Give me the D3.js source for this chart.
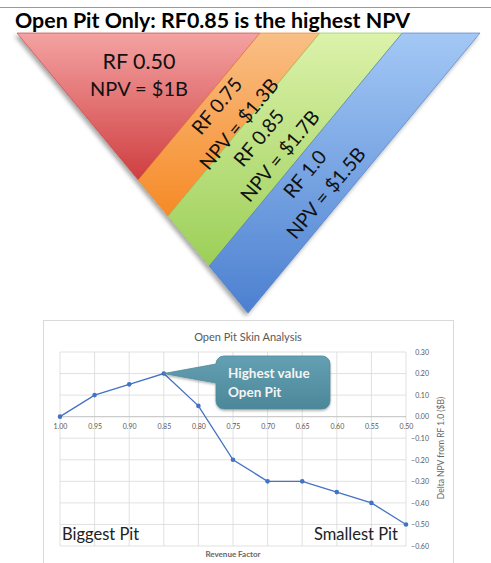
<!DOCTYPE html>
<html><head><meta charset="utf-8">
<script src="https://cdn.jsdelivr.net/npm/d3@7/dist/d3.min.js"></script>
<style>html,body{margin:0;padding:0;background:#fff;}svg{display:block;}</style>
</head><body>
<svg id="c" width="491" height="563"></svg>
<script>
// ---------- DATA ----------
const pageTitle = "Open Pit Only: RF0.85 is the highest NPV";
const bandNames = ["RF 0.50", "RF 0.75", "RF 0.85", "RF 1.0"];
const bandNPV = ["NPV = $1B", "NPV = $1.3B", "NPV = $1.7B", "NPV = $1.5B"];
const bandTopColors = ["#F4A2A2", "#F9BF86", "#DCF2AA", "#A3C8F5"];
const bandBottomColors = ["#CF3E40", "#F68A26", "#9CCF58", "#4C80D0"];
const bandSplits = [0, 0.525, 0.654, 0.832, 1]; // fractions along top edge

const chartTitle = "Open Pit Skin Analysis";
const categories = ["1.00","0.95","0.90","0.85","0.80","0.75","0.70","0.65","0.60","0.55","0.50"];
const values = [0.00, 0.10, 0.15, 0.20, 0.05, -0.20, -0.30, -0.30, -0.35, -0.40, -0.50];
const yTicks = [0.30, 0.20, 0.10, 0.00, -0.10, -0.20, -0.30, -0.40, -0.50, -0.60];
const xTitle = "Revenue Factor";
const yTitle = "Delta NPV from RF 1.0 ($B)";
const calloutLines = ["Highest value", "Open Pit"];
const leftNote = "Biggest Pit", rightNote = "Smallest Pit";

// ---------- DRAW ----------
const svg = d3.select("#c");
const defs = svg.append("defs");
const F = "Lato, 'Open Sans', sans-serif";

// top rule & title
svg.append("line").attr("x1",0).attr("x2",491).attr("y1",7.5).attr("y2",7.5).attr("stroke","#9a9a9a").attr("stroke-width",1);
svg.append("text").attr("x",15).attr("y",28).attr("font-family",F).attr("font-weight","bold")
  .attr("font-size",21).attr("textLength",395).attr("lengthAdjust","spacingAndGlyphs").attr("fill","#000").text(pageTitle);

// triangle diagram
const A = [17,33], B = [480,33], C = [248,313];
const topX = d3.scaleLinear().domain([0,1]).range([A[0],B[0]]);
const leftPt = f => [A[0]+(C[0]-A[0])*f, A[1]+(C[1]-A[1])*f];
const topPt = f => [topX(f), A[1]];

const sh = defs.append("filter").attr("id","sh").attr("x","-20%").attr("y","-20%").attr("width","140%").attr("height","140%");
sh.append("feDropShadow").attr("dx",-2).attr("dy",3).attr("stdDeviation",2).attr("flood-color","#000").attr("flood-opacity",0.35);

bandNames.forEach((n,i)=>{
  const g = defs.append("linearGradient").attr("id","bg"+i).attr("x1",0).attr("y1",0).attr("x2",0).attr("y2",1);
  g.append("stop").attr("offset","0%").attr("stop-color",bandTopColors[i]);
  g.append("stop").attr("offset","100%").attr("stop-color",bandBottomColors[i]);
});

const gTri = svg.append("g").attr("filter","url(#sh)");
bandNames.forEach((n,i)=>{
  const f0 = bandSplits[i], f1 = bandSplits[i+1];
  let pts;
  if (i===0) pts = [A, topPt(f1), leftPt(f1)];
  else if (i===bandNames.length-1) pts = [topPt(f0), B, C, leftPt(f0)];
  else pts = [topPt(f0), topPt(f1), leftPt(f1), leftPt(f0)];
  gTri.append("path").attr("d", d3.line()(pts)+"Z").attr("fill","url(#bg"+i+")")
    .attr("stroke", d3.color(bandBottomColors[i]).darker(0.2)).attr("stroke-width",0.6);
});

// band labels
const gLab = svg.append("g").attr("font-family",F).attr("fill","#111");
gLab.append("text").attr("x",139).attr("y",69).attr("text-anchor","middle").attr("font-size",21.5).text(bandNames[0]);
gLab.append("text").attr("x",139).attr("y",96).attr("text-anchor","middle").attr("font-size",20).text(bandNPV[0]);
const angle = Math.atan2(B[1]-C[1], B[0]-C[0])*180/Math.PI;
const rotCenters = [null, [[217,106],[239,124]], [[259,138],[280,156]], [[305,174],[326,193]]];
for (let i=1;i<4;i++){
  [bandNames[i], bandNPV[i]].forEach((t,j)=>{
    const c = rotCenters[i][j];
    gLab.append("text").attr("transform",`translate(${c[0]},${c[1]}) rotate(${angle})`)
      .attr("text-anchor","middle").attr("dy","0.35em").attr("font-size",19.5).text(t);
  });
}

// chart panel
svg.append("rect").attr("x",43.5).attr("y",320.5).attr("width",410).attr("height",260)
  .attr("fill","#fff").attr("stroke","#d9d9d9");
svg.append("text").attr("x",248).attr("y",341).attr("text-anchor","middle").attr("font-family",F)
  .attr("font-size",11).attr("fill","#595959").text(chartTitle);

const x = d3.scalePoint().domain(categories).range([60,406]);
const y = d3.scaleLinear().domain([-0.6,0.3]).range([546,352]);

const grid = svg.append("g").attr("stroke","#d9d9d9").attr("stroke-width",0.8);
yTicks.forEach(t=>grid.append("line").attr("x1",60).attr("x2",406).attr("y1",y(t)).attr("y2",y(t)));
categories.forEach(c=>grid.append("line").attr("x1",x(c)).attr("x2",x(c)).attr("y1",y(0.3)).attr("y2",y(-0.6)));
svg.append("line").attr("x1",60).attr("x2",406).attr("y1",y(0)).attr("y2",y(0)).attr("stroke","#bfbfbf").attr("stroke-width",0.8);

// y axis (right)
const yAxis = d3.axisRight(y).tickValues(yTicks).tickFormat(d3.format(".2f")).tickSize(0);
const gy = svg.append("g").attr("transform","translate(429,0)").call(yAxis);
gy.select(".domain").remove();
gy.selectAll("text").attr("text-anchor","end").attr("x",0).attr("font-family",F).attr("font-size",7).attr("fill","#595959");

// x axis labels at zero line
const xAxis = d3.axisBottom(x).tickSize(0);
const gx = svg.append("g").attr("transform",`translate(0,${y(0)})`).call(xAxis);
gx.select(".domain").remove();
gx.selectAll("text").attr("y",7).attr("font-family",F).attr("font-size",7).attr("fill","#595959");

// axis titles
svg.append("text").attr("x",233).attr("y",557).attr("text-anchor","middle").attr("font-family",F)
  .attr("font-size",8).attr("font-weight","bold").attr("fill","#666").text(xTitle);
svg.append("text").attr("transform","translate(444,448) rotate(-90)").attr("text-anchor","middle")
  .attr("font-family",F).attr("font-size",8.5).attr("fill","#666").text(yTitle);

// line + markers
const line = d3.line().x((d,i)=>x(categories[i])).y(d=>y(d));
svg.append("path").attr("d",line(values)).attr("fill","none").attr("stroke","#4472C4").attr("stroke-width",1.3);
svg.selectAll("circle.pt").data(values).join("circle").attr("class","pt")
  .attr("cx",(d,i)=>x(categories[i])).attr("cy",d=>y(d)).attr("r",2.3).attr("fill","#4472C4");

// callout
const peakI = values.indexOf(d3.max(values));
const tip = [x(categories[peakI]), y(values[peakI])];
const cg = defs.append("linearGradient").attr("id","cg").attr("x1",0).attr("y1",0).attr("x2",0).attr("y2",1);
cg.append("stop").attr("offset","0%").attr("stop-color","#64A0B3");
cg.append("stop").attr("offset","100%").attr("stop-color","#4C8799");
const cf = defs.append("filter").attr("id","cs").attr("x","-20%").attr("y","-20%").attr("width","140%").attr("height","140%");
cf.append("feDropShadow").attr("dx",0).attr("dy",1.5).attr("stdDeviation",1.2).attr("flood-color","#000").attr("flood-opacity",0.3);
const rx0=216, ry0=356, rw=114, rh=53, rr=8;
const cp = d3.path();
cp.moveTo(rx0+rr, ry0); cp.lineTo(rx0+rw-rr, ry0); cp.arcTo(rx0+rw,ry0,rx0+rw,ry0+rr,rr);
cp.lineTo(rx0+rw, ry0+rh-rr); cp.arcTo(rx0+rw,ry0+rh,rx0+rw-rr,ry0+rh,rr);
cp.lineTo(rx0+rr, ry0+rh); cp.arcTo(rx0,ry0+rh,rx0,ry0+rh-rr,rr);
cp.lineTo(rx0, ry0+27); cp.lineTo(tip[0], tip[1]); cp.lineTo(rx0, ry0+8);
cp.arcTo(rx0,ry0,rx0+rr,ry0,rr); cp.closePath();
svg.append("path").attr("d",cp.toString()).attr("fill","url(#cg)").attr("stroke","#4f8b9c").attr("stroke-width",0.8).attr("filter","url(#cs)");
calloutLines.forEach((t,i)=>svg.append("text").attr("x",228).attr("y",378+i*19).attr("font-family",F)
  .attr("font-weight","bold").attr("font-size",13.5).attr("fill","#F4F4F4").text(t));

// notes
svg.append("text").attr("x",62).attr("y",540).attr("font-family",F).attr("font-size",16.5).attr("fill","#222").text(leftNote);
svg.append("text").attr("x",398).attr("y",540).attr("text-anchor","end").attr("font-family",F).attr("font-size",16.5).attr("fill","#222").text(rightNote);
</script>
</body></html>
